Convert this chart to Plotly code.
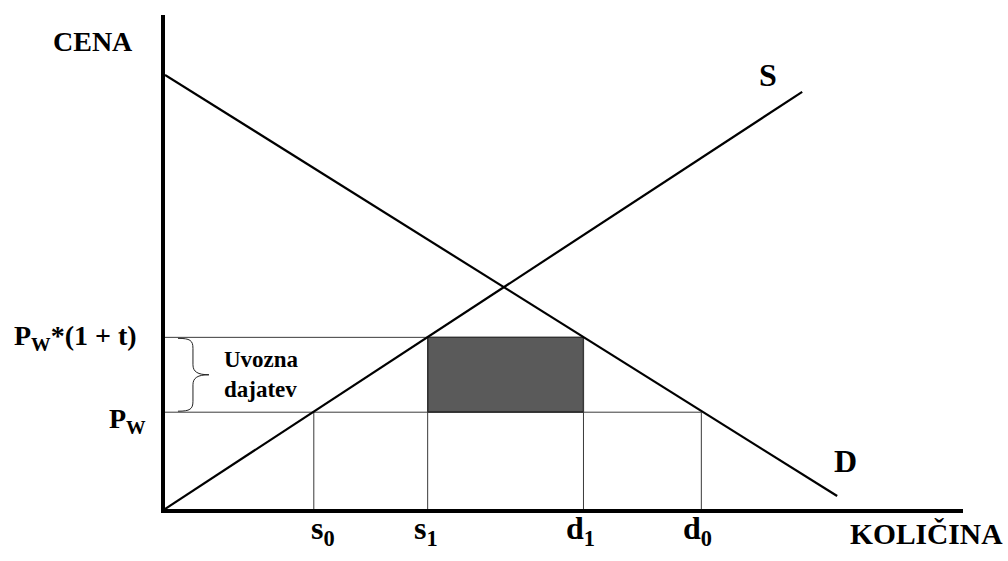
"""
Import tariff diagram (uvozna dajatev) - supply, demand, world price and tariff.

Run:    python plot.py
Output: out.html
"""

import plotly.graph_objects as go


# ── Diagram values (quantity, price) ──────────────────────────────────────────

SUPPLY_Q = [0, 638]
SUPPLY_P = [0, 418]

DEMAND_Q = [0, 673]
DEMAND_P = [435, 13]

P_WORLD = 97          # P_W
P_TARIFF = 172        # P_W*(1 + t)

Q_S0, Q_S1 = 149, 263
Q_D1, Q_D0 = 419, 537

Q_LABELS = ["s<sub>0</sub>", "s<sub>1</sub>", "d<sub>1</sub>", "d<sub>0</sub>"]
Q_LABEL_POS = [158, 261, 416, 533]

X_MAX, Y_MAX = 799, 495

FONT = "Liberation Serif, Times New Roman, serif"


def brace_path(top, bot, x0=13, xm=28, xt=44, r=10):
    """Path for a right-pointing curly brace between two price levels."""
    mid = (top + bot) / 2
    k = x0 + (xm - x0) * 0.8
    j = xm + (xt - xm) * 0.3
    return (
        f"M {x0},{top} C {k},{top} {xm},{top - r * 0.2} {xm},{top - r} "
        f"L {xm},{mid + r} C {xm},{mid + r * 0.3} {j},{mid} {xt},{mid} "
        f"C {j},{mid} {xm},{mid - r * 0.3} {xm},{mid - r} "
        f"L {xm},{bot + r} C {xm},{bot + r * 0.2} {k},{bot} {x0},{bot}"
    )


def build_figure() -> go.Figure:
    fig = go.Figure()

    # tariff revenue rectangle
    fig.add_trace(go.Scatter(
        x=[Q_S1, Q_D1, Q_D1, Q_S1, Q_S1],
        y=[P_WORLD, P_WORLD, P_TARIFF, P_TARIFF, P_WORLD],
        mode="lines", fill="toself", fillcolor="#5a5a5a",
        line=dict(color="#000000", width=1.2),
        hoverinfo="skip",
    ))

    # thin guide lines
    gx = [0, Q_D0, None, 0, Q_D1, None,
          Q_S0, Q_S0, None, Q_D0, Q_D0, None,
          Q_S1, Q_S1, None, Q_D1, Q_D1]
    gy = [P_WORLD, P_WORLD, None, P_TARIFF, P_TARIFF, None,
          0, P_WORLD, None, 0, P_WORLD, None,
          0, P_TARIFF, None, 0, P_TARIFF]
    fig.add_trace(go.Scatter(
        x=gx, y=gy, mode="lines",
        line=dict(color="#3a3a3a", width=1),
        hoverinfo="skip",
    ))

    fig.add_trace(go.Scatter(
        x=SUPPLY_Q, y=SUPPLY_P, mode="lines", name="S",
        line=dict(color="#000000", width=2.2),
    ))
    fig.add_trace(go.Scatter(
        x=DEMAND_Q, y=DEMAND_P, mode="lines", name="D",
        line=dict(color="#000000", width=2.2),
    ))

    fig.add_shape(type="path", path=brace_path(P_TARIFF - 1, P_WORLD + 1),
                  xref="x", yref="y", line=dict(color="#222222", width=1))

    # annotations in paper units so that labels outside the axes still show
    def label(text, x, y, size, xanchor="center", align="center"):
        fig.add_annotation(
            text=text, x=x / X_MAX, y=y / Y_MAX, xref="paper", yref="paper",
            xanchor=xanchor, yanchor="middle", align=align,
            showarrow=False,
            font=dict(family=FONT, size=size, color="#000000", weight="bold"),
        )

    label("CENA", -72, 468, 28)
    label("KOLIČINA", 762, -25, 29.5)
    label("S", 604, 435, 32)
    label("D", 681, 48, 32)
    label("P<sub>W</sub>*(1 + t)", -26, P_TARIFF, 28, xanchor="right")
    label("P<sub>W</sub>", -17, P_WORLD - 8, 28, xanchor="right")
    label("Uvozna<br>dajatev", 57, (P_WORLD + P_TARIFF) / 2, 23,
          xanchor="left", align="left")
    for txt, xq in zip(Q_LABELS, Q_LABEL_POS):
        label(txt, xq, -22, 32)

    fig.update_layout(
        width=1008, height=561,
        showlegend=False,
        paper_bgcolor="#ffffff",
        plot_bgcolor="#ffffff",
        margin=dict(l=165, r=45, t=15, b=52),
    )
    fig.update_xaxes(range=[0, X_MAX], showgrid=False, zeroline=False,
                     showticklabels=False, ticks="",
                     showline=True, linecolor="#000000", linewidth=4)
    fig.update_yaxes(range=[0, Y_MAX], showgrid=False, zeroline=False,
                     showticklabels=False, ticks="",
                     showline=True, linecolor="#000000", linewidth=4)
    return fig


if __name__ == "__main__":
    fig = build_figure()
    fig.write_html("out.html", config={"displayModeBar": False})

    # drop the default page margin so the figure sits at the window origin
    with open("out.html", "r", encoding="utf-8") as f:
        html = f.read()
    html = html.replace("</head>", "<style>body{margin:0;overflow:hidden}</style>\n</head>", 1)
    with open("out.html", "w", encoding="utf-8") as f:
        f.write(html)
